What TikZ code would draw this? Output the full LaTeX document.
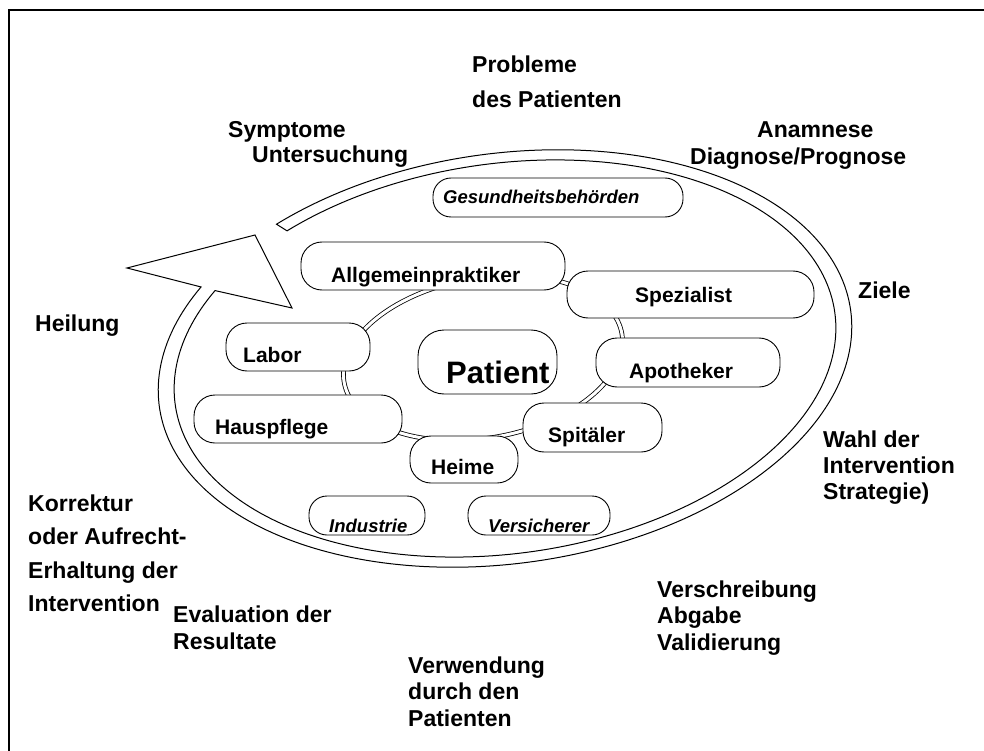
\documentclass[tikz,border=0pt]{standalone}
\usepackage{fontspec}
\setmainfont{Liberation Sans}
\begin{document}
\begin{tikzpicture}[x=1pt,y=-1pt,
  box/.style={draw, fill=white, line width=0.9pt, rounded corners=21pt, inner sep=0pt},
  slimbox/.style={box, rounded corners=18pt},
  ntext/.style={font=\bfseries\fontsize{21}{25}\selectfont, anchor=base west, inner sep=0pt},
  itext/.style={font=\bfseries\itshape\fontsize{18.5}{22}\selectfont, anchor=base west, inner sep=0pt},
  olbl/.style={font=\bfseries\fontsize{23}{27}\selectfont, anchor=base west, inner sep=0pt, align=left},
  ring/.style={double, double distance=3pt, line width=0.8pt},
  band/.style={line width=1pt, line join=miter}
]
% page and frame
\fill[white] (0,0) rectangle (984,751);
\useasboundingbox (0,0) rectangle (984,751);
\draw[line width=2pt] (9,751) -- (9,10) -- (984,10);

% open elliptical band ending in an arrowhead
\draw[band]
  plot[domain=0:340, samples=240]
    ({505 + 349*cos(126.5-\x)*0.9903 - 205*sin(126.5-\x)*0.1392},
     {358.5 - 349*cos(126.5-\x)*0.1392 - 205*sin(126.5-\x)*0.9903})
  -- (127,268) -- (255,235) -- (292,308)
  -- plot[domain=0:340, samples=240]
    ({505 + 333*cos(-213.5+\x)*0.9903 - 195*sin(-213.5+\x)*0.1392},
     {358.5 - 333*cos(-213.5+\x)*0.1392 - 195*sin(-213.5+\x)*0.9903})
  -- cycle;

% double ring linking the care providers
\draw[ring]
  plot[domain=0:360, samples=160]
    ({483 + 141*cos(\x)*0.9848 - 80*sin(\x)*0.1736},
     {358 - 141*cos(\x)*0.1736 - 80*sin(\x)*0.9848}) -- cycle;

% boxes
\node[slimbox, minimum width=250pt, minimum height=39pt] (ges) at (558,197.5) {};
\node[box, minimum width=264pt, minimum height=48pt] (alg) at (433,266) {};
\node[box, minimum width=247pt, minimum height=47pt] (spe) at (690.5,294.5) {};
\node[box, minimum width=144pt, minimum height=48pt] (lab) at (298,347) {};
\node[box, minimum width=139pt, minimum height=64pt, rounded corners=26pt] (pat) at (487.5,362) {};
\node[box, minimum width=184pt, minimum height=49pt] (apo) at (688,362.5) {};
\node[box, minimum width=208pt, minimum height=48pt] (hau) at (298,419) {};
\node[box, minimum width=139pt, minimum height=49pt] (spi) at (592.5,427.5) {};
\node[box, minimum width=108pt, minimum height=47pt] (hei) at (464,459.5) {};
\node[slimbox, minimum width=116pt, minimum height=39pt] (ind) at (367,515.5) {};
\node[slimbox, minimum width=142pt, minimum height=39pt] (ver) at (539,515.5) {};

% box texts
\node[itext] (gest) at (443,204) {Gesundheitsbehörden};
\node[ntext] (algt) at (331,282) {Allgemeinpraktiker};
\node[ntext] (spet) at (635,302) {Spezialist};
\node[ntext] (labt) at (243,362) {Labor};
\node[ntext, font=\bfseries\fontsize{31}{36}\selectfont] (patt) at (446,383) {Patient};
\node[ntext] (apot) at (629,378) {Apotheker};
\node[ntext] (haut) at (215,434) {Hauspflege};
\node[ntext] (spit) at (548,442) {Spitäler};
\node[ntext] (heit) at (431,474) {Heime};
\node[itext] (indt) at (329,532) {Industrie};
\node[itext] (vert) at (488,532) {Versicherer};

% stages of the care cycle (multi-line nodes sit on their last baseline)
\node[olbl, font=\bfseries\fontsize{23}{35}\selectfont] (probl) at (472,108) {Probleme\\des Patienten};
\node[olbl] (sympt) at (228,138) {Symptome};
\node[olbl] (unters) at (252,163) {Untersuchung};
\node[olbl] (anam) at (757,138) {Anamnese};
\node[olbl] (diag) at (690,165) {Diagnose/Prognose};
\node[olbl] (ziele) at (858,298) {Ziele};
\node[olbl] (heil) at (35,331) {Heilung};
\node[olbl, font=\bfseries\fontsize{23}{26}\selectfont] (wahl) at (823,499) {Wahl der\\Intervention\\Strategie)};
\node[olbl, font=\bfseries\fontsize{23}{33.5}\selectfont] (korr) at (28,611.5) {Korrektur\\oder Aufrecht-\\Erhaltung der\\Intervention};
\node[olbl] (eval) at (173,649) {Evaluation der\\Resultate};
\node[olbl, font=\bfseries\fontsize{23}{26.5}\selectfont] (verw) at (408,726) {Verwendung\\durch den\\Patienten};
\node[olbl, font=\bfseries\fontsize{23}{26.5}\selectfont] (versch) at (657,650) {Verschreibung\\Abgabe\\Validierung};
\end{tikzpicture}
\end{document}
